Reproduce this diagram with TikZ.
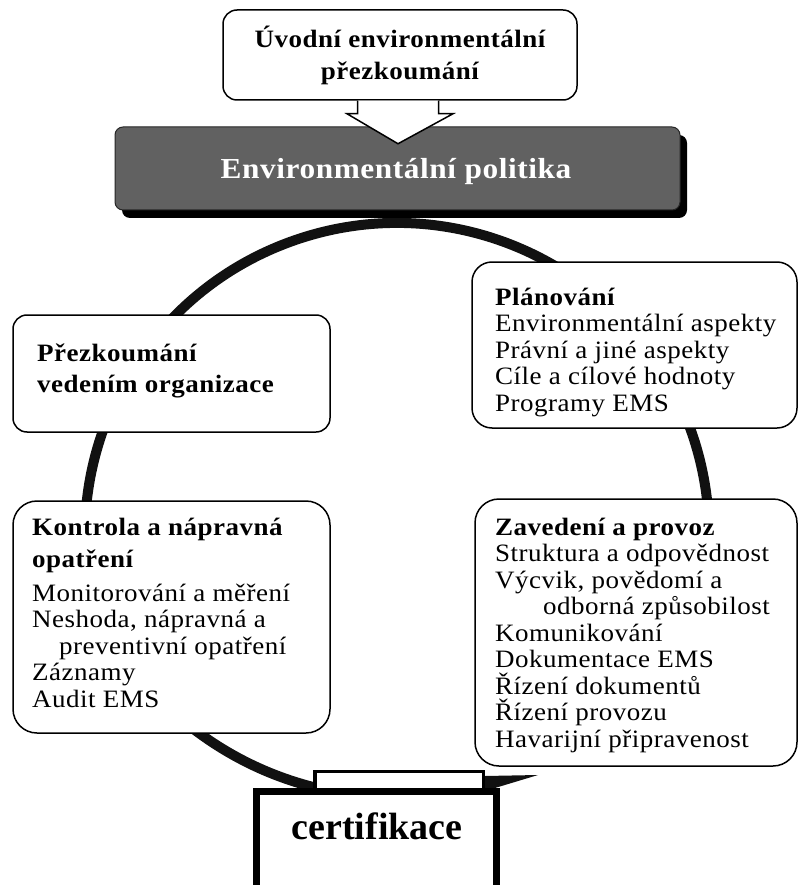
\documentclass[tikz,border=0pt]{standalone}
\usepackage{fontspec}
\setmainfont{Liberation Serif}[FakeStretch=1.08,LetterSpace=2]
\newfontfamily\plainfont{Liberation Serif}
\usetikzlibrary{calc}
\definecolor{polgray}{HTML}{616161}
\definecolor{ringblack}{HTML}{111111}
\newcommand\bodysize{\fontsize{25}{26.5}\selectfont}
\newcommand\boxlines[2]{\vtop{\hsize=#1\parindent=0pt\lineskiplimit=-100pt\lineskip=0pt\bodysize\raggedright #2\par}}
\tikzset{
  rbox/.style={draw=black, line width=1.5pt, fill=white, inner sep=0pt},
  ringline/.style={draw=ringblack, line width=10pt},
  txt/.style={inner sep=0pt, anchor=base west},
}
\begin{document}
\begin{tikzpicture}[x=1pt,y=-1pt]
\useasboundingbox (0,0) rectangle (800,885);
% ring
\coordinate (rc) at (397,535);
\draw[ringline] ($(rc)+(200:312pt)$) arc[start angle=200,end angle=-20,radius=312pt];
\draw[ringline] (150,690) .. controls (200,742) and (255,772) .. (313,787);
\fill[ringblack] (485,776) -- (538,775) -- (485,791) -- cycle;
% boxes
\node[rbox, rounded corners=14pt, minimum width=354pt, minimum height=90pt] (intro) at (400,55) {};
\node[rbox, rounded corners=20pt, minimum width=325pt, minimum height=166pt] (plan) at (634.5,345) {};
\node[rbox, rounded corners=24pt, minimum width=322pt, minimum height=267pt] (impl) at (636,632.5) {};
\node[rbox, rounded corners=14pt, minimum width=317pt, minimum height=117pt] (review) at (171.5,373.5) {};
\node[rbox, rounded corners=24pt, minimum width=317pt, minimum height=232pt] (check) at (171.5,617) {};
% policy
\node[fill=black, rounded corners=8pt, minimum width=565pt, minimum height=83pt, inner sep=0pt] (polsh) at (404.5,176.5) {};
\node[draw=black!85, line width=1pt, fill=polgray, rounded corners=8pt, minimum width=565pt, minimum height=83pt, inner sep=0pt] (pol) at (397.5,168.5) {};
% hollow arrow
\coordinate (ax) at ($(intro.south)+(-2,0)$);
\draw[line width=1.5pt, fill=white, line join=miter]
  ($(ax)+(-40.5,0)$) -- ($(ax)+(-40.5,13)$) -- ($(ax)+(-51,13)$) -- ($(ax)+(0,43)$)
  -- ($(ax)+(55,13)$) -- ($(ax)+(40.5,13)$) -- ($(ax)+(40.5,0)$);
% certifikace
\node[draw=black, line width=3.5pt, fill=white, minimum width=168.5pt, minimum height=18.5pt, inner sep=0pt] (tab) at (399,780.5) {};
\node[draw=black, line width=7pt, fill=white, minimum width=240pt, minimum height=117pt, inner sep=0pt] (cert) at (376.5,850) {};
% texts
\node[inner sep=0pt, anchor=base] (introtxt) at (400,48) {\vtop{\hsize=350pt\centering\lineskiplimit=-100pt\bfseries\fontsize{25}{32}\selectfont Úvodní environmentální\\ přezkoumání\par}};
\node[inner sep=0pt, anchor=base, text=white, font=\bfseries\fontsize{29}{30}\selectfont] (poltxt) at (396,179) {Environmentální politika};
\node[txt] (plantxt) at (495,305) {\boxlines{300pt}{\textbf{Plánování}\\
Environmentální aspekty\\
Právní a jiné aspekty\\
Cíle a cílové hodnoty\\
Programy EMS}};
\node[txt] (impltxt) at (495,535) {\boxlines{300pt}{\textbf{Zavedení a provoz}\\
Struktura a odpovědnost\\
Výcvik, povědomí a\\
\hspace*{48pt}odborná způsobilost\\
Komunikování\\
Dokumentace EMS\\
Řízení dokumentů\\
Řízení provozu\\
Havarijní připravenost}};
\node[txt] (reviewtxt) at (37,361) {\boxlines{290pt}{\bfseries Přezkoumání\\[4.5pt]
vedením organizace}};
\node[txt] (checktxt) at (32,535) {\boxlines{295pt}{\textbf{Kontrola a nápravná}\\[5.5pt]
\textbf{opatření}\\[7.5pt]
Monitorování a měření\\
Neshoda, nápravná a\\
\hspace*{27pt}preventivní opatření\\
Záznamy\\
Audit EMS}};
\node[inner sep=0pt, anchor=base, font=\plainfont\bfseries\fontsize{38}{40}\selectfont] (certtxt) at (377,839) {certifikace};
\end{tikzpicture}
\end{document}
